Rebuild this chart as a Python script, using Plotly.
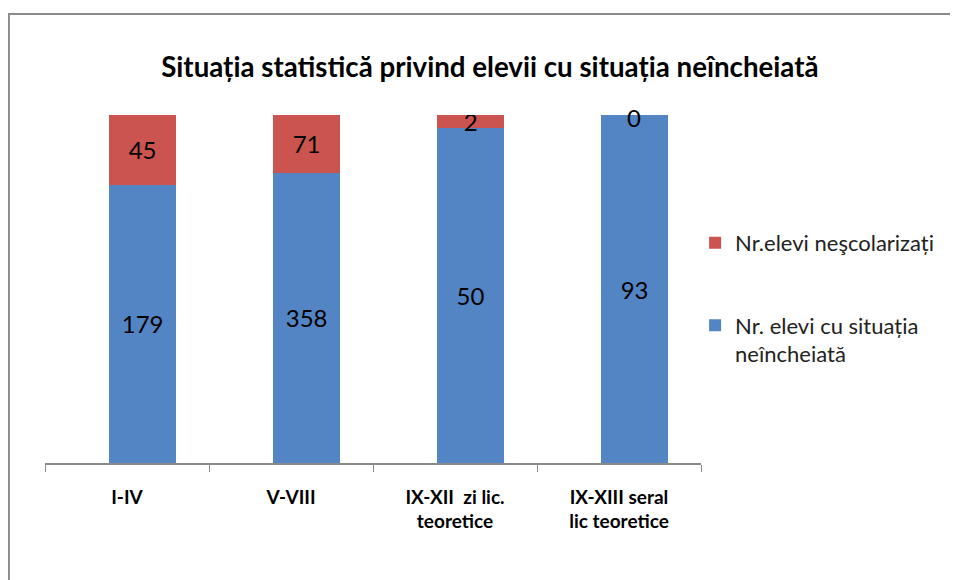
import plotly.graph_objects as go

categories = [
    "I-IV",
    "V-VIII",
    "IX-XII  zi lic.<br>teoretice",
    "IX-XIII seral<br>lic teoretice",
]
neincheiata = [179, 358, 50, 93]
nescolarizati = [45, 71, 2, 0]

blue = "#5385C5"
red = "#CB5350"
font = "Lato, 'Noto Sans', sans-serif"
label_font = dict(size=24, color="black", family=font)

# bars sit a little right of the category centre, as in the original
bar_width = 0.41
bar_offset = -0.11

fig = go.Figure()

fig.add_trace(go.Bar(
    x=categories,
    y=neincheiata,
    name="Nr. elevi cu situația<br>neîncheiată",
    marker=dict(color=blue, line=dict(width=0)),
    width=bar_width,
    offset=bar_offset,
    text=neincheiata,
    textposition="inside",
    insidetextanchor="middle",
    constraintext="none",
    textangle=0,
    textfont=label_font,
    legendgroup="a",
    legendrank=2,
))

fig.add_trace(go.Bar(
    x=categories,
    y=nescolarizati,
    name="Nr.elevi neşcolarizați",
    marker=dict(color=red, line=dict(width=0)),
    width=bar_width,
    offset=bar_offset,
    text=nescolarizati,
    textposition="inside",
    insidetextanchor="middle",
    constraintext="none",
    textangle=0,
    textfont=label_font,
    legendgroup="b",
    legendrank=1,
))

# zero-height segments get no bar text, so label them at the top of the stack
for cat, v in zip(categories, nescolarizati):
    if v == 0:
        fig.add_annotation(x=cat, y=100, text=str(v), showarrow=False,
                           yanchor="middle", yshift=-2, xshift=15,
                           font=label_font)

fig.update_layout(
    width=958,
    height=580,
    barmode="stack",
    barnorm="percent",
    paper_bgcolor="white",
    plot_bgcolor="white",
    margin=dict(l=37, r=265, t=107, b=125),
    font=dict(family=font, color="black"),
    title=dict(
        text="<b>Situația statistică privind elevii cu situația neîncheiată</b>",
        x=0.503, xanchor="center",
        y=0.897, yanchor="middle",
        font=dict(size=27.7, family=font, color="black"),
    ),
    showlegend=True,
    legend=dict(
        x=0.991, xanchor="left",
        y=0.693, yanchor="top",
        traceorder="grouped",
        tracegroupgap=51,
        itemwidth=30,
        valign="top",
        font=dict(size=22, family=font, color="#222"),
        bgcolor="rgba(0,0,0,0)",
    ),
    shapes=[dict(
        type="rect", xref="paper", yref="paper",
        x0=-0.055, x1=1.4, y0=-0.37, y1=1.29,
        line=dict(color="#8a8a8a", width=2),
        fillcolor="rgba(0,0,0,0)",
        layer="below",
    )],
)

fig.update_xaxes(
    showline=True,
    linecolor="#8a8a8a",
    linewidth=1.5,
    ticks="outside",
    tickson="boundaries",
    ticklen=7,
    tickcolor="#8a8a8a",
    ticklabelstandoff=16,
    tickfont=dict(size=19, family=font, color="black", weight="bold"),
    showgrid=False,
)
fig.update_yaxes(visible=False, range=[0, 100])

fig.write_html("out.html")
